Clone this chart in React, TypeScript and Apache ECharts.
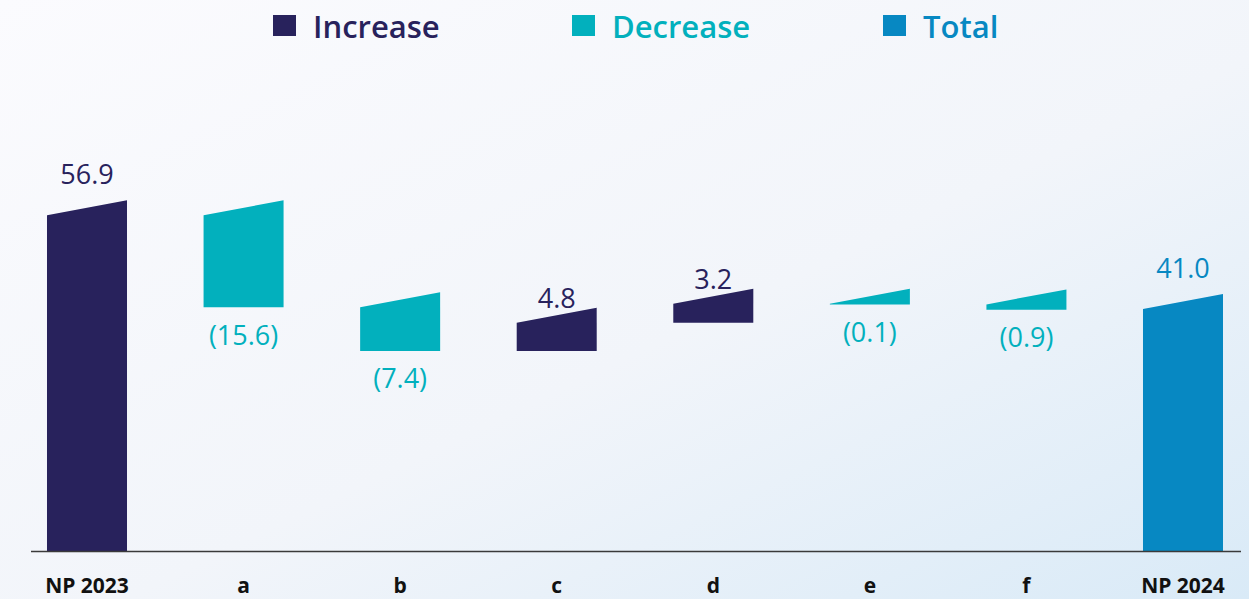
import React, { useEffect, useRef } from "react";
import * as echarts from "echarts";

const categories = ["NP 2023", "a", "b", "c", "d", "e", "f", "NP 2024"];
const amounts = [56.9, 15.6, 7.4, 4.8, 3.2, 0.1, 0.9, 41.0];
const kinds = ["start", "decrease", "decrease", "increase", "increase", "decrease", "decrease", "total"];
const valueLabels = ["56.9", "(15.6)", "(7.4)", "4.8", "3.2", "(0.1)", "(0.9)", "41.0"];
const legendNames = ["Increase", "Decrease", "Total"];

const NAVY = "#28225C";
const TEAL = "#02B0BD";
const BLUE = "#0788C2";
const FONT = "'Open Sans', 'DejaVu Sans', sans-serif";

type Row = [number, number, number];

function buildRows() {
  const inc: Row[] = [];
  const dec: Row[] = [];
  const tot: Row[] = [];
  let running = 0;
  amounts.forEach((a, i) => {
    const k = kinds[i];
    if (k === "start") {
      inc.push([i, 0, a]);
      running = a;
    } else if (k === "increase") {
      inc.push([i, running, running + a]);
      running += a;
    } else if (k === "decrease") {
      dec.push([i, running - a, running]);
      running -= a;
    } else {
      tot.push([i, 0, a]);
    }
  });
  return { inc, dec, tot };
}

const SLANT = 15;

function makeRender(color: string) {
  return (params: any, api: any) => {
    const i = api.value(0);
    const low = api.value(1);
    const high = api.value(2);
    const pLow = api.coord([i, low]);
    const pHigh = api.coord([i, high]);
    const w = api.size([1, 0])[0] * 0.511;
    const xL = pLow[0] - w / 2;
    const xR = pLow[0] + w / 2;
    const yLow = pLow[1];
    const yHigh = pHigh[1];
    const topCenter = yHigh - SLANT / 2;
    const k = kinds[i];
    let ly: number;
    if (k === "start" || k === "total") ly = topCenter - 34;
    else if (k === "increase") ly = topCenter - 18;
    else ly = yLow + 27;
    return {
      type: "group",
      children: [
        {
          type: "polygon",
          shape: {
            points: [
              [xL, yLow],
              [xR, yLow],
              [xR, yHigh - SLANT],
              [xL, yHigh],
            ],
          },
          style: { fill: color },
        },
        {
          type: "text",
          x: pLow[0],
          y: ly,
          style: {
            text: valueLabels[i],
            fill: color,
            fontSize: 27,
            fontFamily: FONT,
            align: "center",
            verticalAlign: "middle",
          },
        },
      ],
    };
  };
}

export default function App() {
  const ref = useRef<HTMLDivElement>(null);
  useEffect(() => {
    if (!ref.current) return;
    const chart = echarts.init(ref.current, null, { renderer: "svg" });
    const { inc, dec, tot } = buildRows();
    const legendBase = (name: string, color: string, left: number) => ({
      data: [{ name, textStyle: { color } }],
      left,
      top: 10,
      padding: 0,
      icon: "rect",
      itemWidth: 23,
      itemHeight: 21,
      selectedMode: false,
      textStyle: {
        fontSize: 31,
        fontWeight: 600,
        fontFamily: FONT,
        color,
        padding: [0, 0, 0, 12],
      },
    });
    chart.setOption({
      animation: false,
      backgroundColor: new echarts.graphic.LinearGradient(0, 0, 1, 1, [
        { offset: 0, color: "#fbfbfe" },
        { offset: 0.55, color: "#f2f5fa" },
        { offset: 1, color: "#d9eaf7" },
      ]),
      legend: [
        legendBase(legendNames[0], NAVY, 273),
        legendBase(legendNames[1], TEAL, 572),
        legendBase(legendNames[2], BLUE, 883),
      ],
      grid: { left: 87, right: 66, top: 79, bottom: 48 },
      xAxis: {
        type: "category",
        data: categories,
        boundaryGap: false,
        axisLine: { show: false },
        axisTick: { show: false },
        splitLine: { show: false },
        axisLabel: {
          margin: 23,
          color: "#111111",
          fontSize: 21,
          fontWeight: "bold",
          fontFamily: FONT,
        },
      },
      yAxis: {
        type: "value",
        min: 0,
        max: 80,
        show: false,
        splitLine: { show: false },
      },
      graphic: [
        {
          type: "line",
          shape: { x1: 31, y1: 551.5, x2: 1241, y2: 551.5 },
          style: { stroke: "#3a3a3a", lineWidth: 1.5 },
          z: 100,
        },
      ],
      series: [
        {
          name: "Increase",
          type: "custom",
          itemStyle: { color: NAVY },
          renderItem: makeRender(NAVY),
          encode: { x: 0, y: [1, 2] },
          data: inc,
        },
        {
          name: "Decrease",
          type: "custom",
          itemStyle: { color: TEAL },
          renderItem: makeRender(TEAL),
          encode: { x: 0, y: [1, 2] },
          data: dec,
        },
        {
          name: "Total",
          type: "custom",
          itemStyle: { color: BLUE },
          renderItem: makeRender(BLUE),
          encode: { x: 0, y: [1, 2] },
          data: tot,
        },
      ],
    });
    return () => chart.dispose();
  }, []);
  return (
    <div
      ref={ref}
      style={{ position: "fixed", left: 0, top: 0, width: 1249, height: 599 }}
    />
  );
}
